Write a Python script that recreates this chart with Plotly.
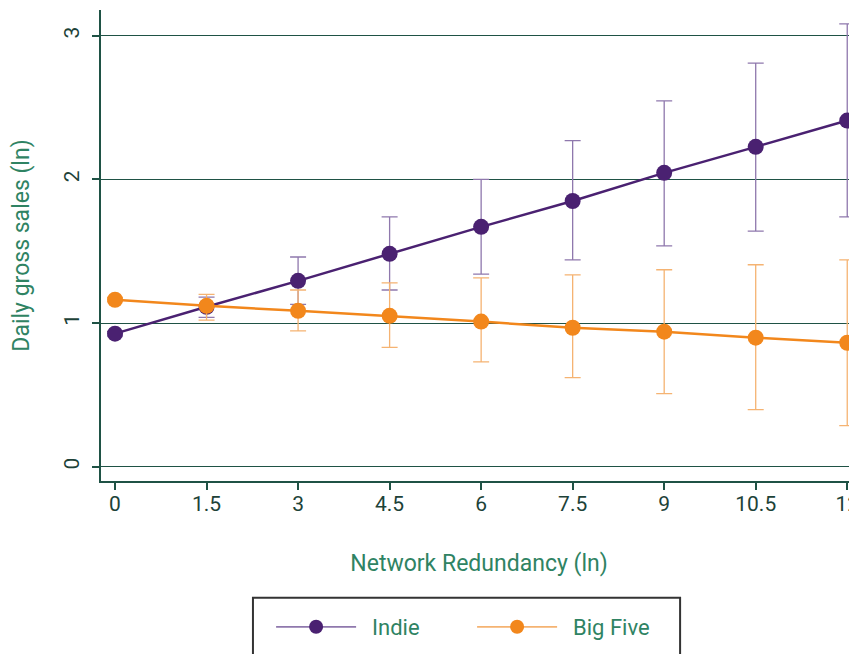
import plotly.graph_objects as go

x_vals = [0, 1.5, 3, 4.5, 6, 7.5, 9, 10.5, 12]
x_tick_labels = ["0", "1.5", "3", "4.5", "6", "7.5", "9", "10.5", "12"]

indie_y = [0.926, 1.113, 1.294, 1.482, 1.67, 1.85, 2.046, 2.227, 2.41]
indie_hi = [0.94, 1.18, 1.46, 1.74, 2.0, 2.27, 2.547, 2.81, 3.083]
indie_lo = [0.91, 1.04, 1.13, 1.23, 1.34, 1.44, 1.538, 1.64, 1.74]

big_y = [1.162, 1.12, 1.085, 1.05, 1.01, 0.967, 0.94, 0.898, 0.863]
big_hi = [1.175, 1.2, 1.23, 1.28, 1.315, 1.336, 1.371, 1.406, 1.44]
big_lo = [1.15, 1.02, 0.946, 0.83, 0.73, 0.62, 0.508, 0.397, 0.285]

y_ticks = [0, 1, 2, 3]

PURPLE = "#4a2171"
PURPLE_LIGHT = "#8f78ad"
ORANGE = "#f2871c"
ORANGE_LIGHT = "#f5b372"
GRID = "#1f5245"
TEXT_GREEN = "#2f8363"
TICK_TEXT = "#1d4238"
FONT = "Roboto"

fig = go.Figure()

def add_series(name, y, hi, lo, color, light):
    fig.add_trace(go.Scatter(
        x=x_vals, y=y, name=name, mode="lines+markers", showlegend=False,
        line=dict(color=color, width=2.5),
        marker=dict(color=color, size=16),
        cliponaxis=False,
        error_y=dict(type="data", symmetric=False,
                     array=[h - v for h, v in zip(hi, y)],
                     arrayminus=[v - l for v, l in zip(y, lo)],
                     color=light, thickness=1.3, width=8),
    ))
    # legend-only entry with lighter line, as in the reference
    fig.add_trace(go.Scatter(
        x=[None], y=[None], name="\u00a0\u00a0" + name, mode="lines+markers",
        line=dict(color=light, width=1.8),
        marker=dict(color=color, size=14),
    ))

add_series("Indie", indie_y, indie_hi, indie_lo, PURPLE, PURPLE_LIGHT)
add_series("Big Five", big_y, big_hi, big_lo, ORANGE, ORANGE_LIGHT)

fig.add_shape(type="rect", xref="paper", yref="paper",
              x0=0.201, x1=0.766, y0=-0.45, y1=-0.248,
              line=dict(color="#333333", width=2), fillcolor="rgba(0,0,0,0)")

fig.update_layout(
    width=857, height=654,
    margin=dict(l=93, r=8, t=2, b=181),
    paper_bgcolor="white", plot_bgcolor="white",
    font=dict(family=FONT, color=TICK_TEXT, size=21),
    showlegend=True,
    legend=dict(orientation="h", x=0.225, xanchor="left", y=-0.31, yanchor="middle",
                font=dict(family=FONT, size=22, color=TEXT_GREEN), bgcolor="rgba(0,0,0,0)",
                itemwidth=80, entrywidthmode="pixels", entrywidth=106),
    xaxis=dict(range=[-0.23, 12.16], tickvals=x_vals, ticktext=x_tick_labels,
               automargin=False,
               showgrid=False, zeroline=False, showline=True, linecolor=GRID, linewidth=2,
               ticks="outside", ticklen=7, tickwidth=2, tickcolor=GRID,
               ticklabelstandoff=-4,
               tickfont=dict(family=FONT, size=21, color=TICK_TEXT),
               title=dict(text="Network Redundancy (ln)", font=dict(family=FONT, size=23, color=TEXT_GREEN), standoff=40)),
    yaxis=dict(range=[-0.1, 3.18], tickvals=y_ticks, tickangle=-90,
               automargin=False,
               showgrid=True, gridcolor=GRID, gridwidth=1.4, zeroline=False,
               showline=True, linecolor=GRID, linewidth=2,
               ticks="outside", ticklen=7, tickwidth=2, tickcolor=GRID,
               ticklabelstandoff=5,
               tickfont=dict(family=FONT, size=21, color=TICK_TEXT),
               title=dict(text="Daily gross sales (ln)", font=dict(family=FONT, size=23, color=TEXT_GREEN), standoff=30)),
)

fig.write_html("out.html")
